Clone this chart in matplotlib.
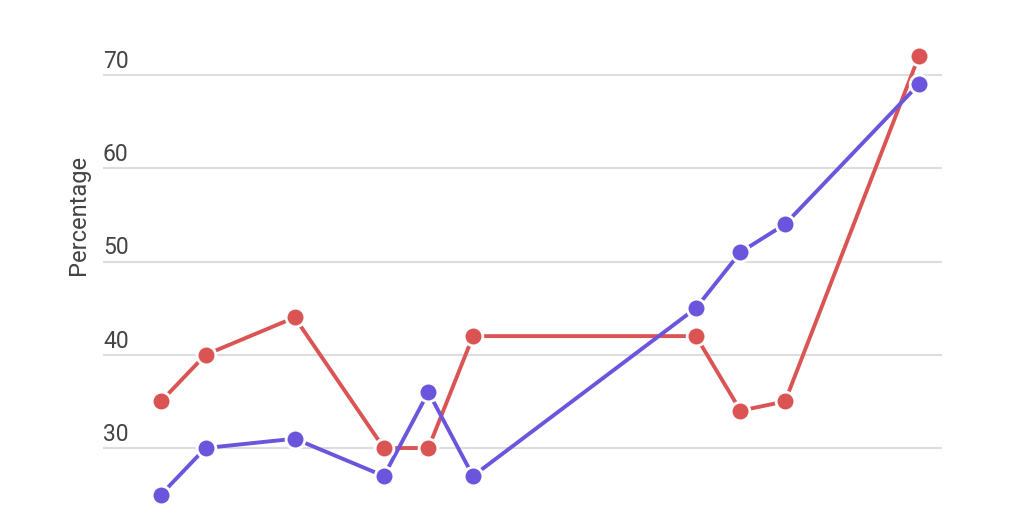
import matplotlib.pyplot as plt

plt.rcParams['font.family'] = ['Roboto', 'DejaVu Sans']

x_pos = [0, 1, 3, 5, 6, 7, 12, 13, 14, 17]
red_vals = [35, 40, 44, 30, 30, 42, 42, 34, 35, 72]
blue_vals = [25, 30, 31, 27, 36, 27, 45, 51, 54, 69]
y_ticks = [30, 40, 50, 60, 70]

red = '#db5454'
blue = '#6b55dc'

fig = plt.figure(figsize=(10.24, 5.12), dpi=100)
ax = fig.add_axes([103/1024, 0, (942-103)/1024, 1])

for vals, c in [(red_vals, red), (blue_vals, blue)]:
    ax.plot(x_pos, vals, color=c, lw=2.8, zorder=3, clip_on=False)
    ax.plot(x_pos, vals, 'o', ms=13.5, mfc=c, mec='white', mew=2, zorder=4, clip_on=False)

ax.set_xlim(-1.3, 17.52)
ax.set_ylim(23.14, 78.04)
ax.set_yticks(y_ticks)
ax.set_yticklabels([])
ax.set_xticks([])
ax.tick_params(left=False)
ax.grid(axis='y', color='#dddddd', lw=1.5)
ax.set_axisbelow(True)
for s in ax.spines.values():
    s.set_visible(False)

for v in y_ticks:
    ax.annotate(str(v), xy=(0, v), xycoords=('axes fraction', 'data'),
                xytext=(0, 1.5), textcoords='offset points',
                ha='left', va='bottom', fontsize=16.5, color='#444444')

fig.text(78/1024, 1 - 215/512, 'Percentage', rotation=90, ha='center', va='center',
         fontsize=17, color='#444444')

fig.savefig('out.png', dpi=100)
